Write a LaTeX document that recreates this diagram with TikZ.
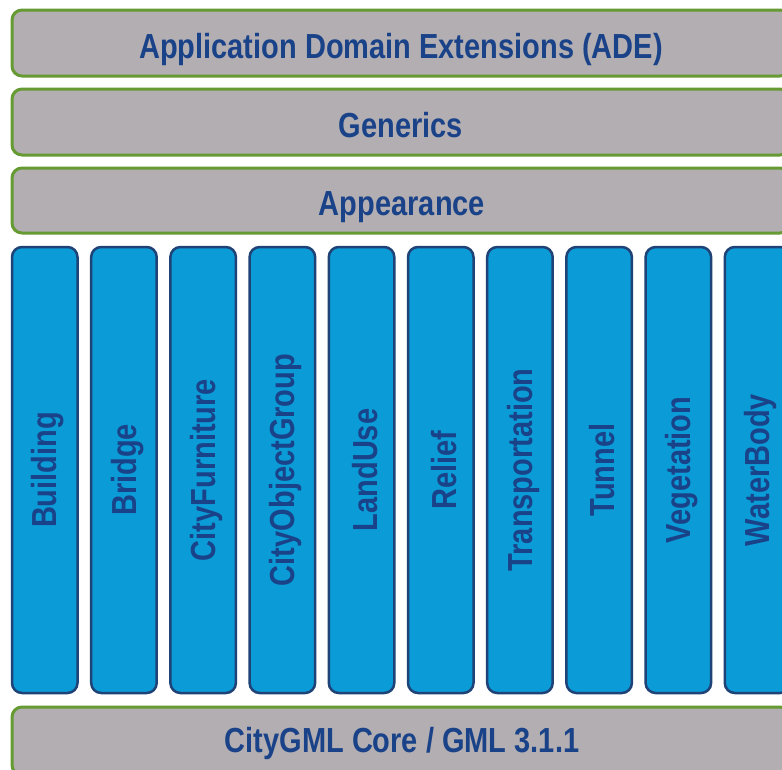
\documentclass[tikz,border=0pt]{standalone}
\usepackage{fontspec}
\usepackage{graphicx}
\setmainfont{Liberation Sans}
\definecolor{barfill}{HTML}{B2AEB1}
\definecolor{bargreen}{HTML}{669A32}
\definecolor{colfill}{HTML}{0B9BD7}
\definecolor{coledge}{HTML}{1F4277}
\definecolor{txtblue}{HTML}{1A4288}
\newcommand{\tallt}[1]{\scalebox{1}[1.2]{#1}}
\begin{document}
\begin{tikzpicture}[x=1pt,y=-1pt,
  lbl/.style={text=txtblue,font=\fontsize{29}{29}\selectfont\bfseries,inner sep=0pt},
  barbox/.style={draw=bargreen,fill=barfill,line width=3pt,rounded corners=10pt},
  colbox/.style={draw=coledge,fill=colfill,line width=2.5pt,rounded corners=10pt}]
\useasboundingbox (0,0) rectangle (782,769);
\clip (0,0) rectangle (782,769);
\fill[white] (0,0) rectangle (782,769);
% horizontal bars
\draw[barbox] (12,10) rectangle (790,76);
\node[lbl,anchor=base] (ade) at (401,58) {\tallt{Application Domain Extensions (ADE)}};
\draw[barbox] (12,89) rectangle (790,155);
\node[lbl,anchor=base] (gen) at (401,137) {\tallt{Generics}};
\draw[barbox] (12,168) rectangle (790,233);
\node[lbl,anchor=base] (app) at (402,215) {\tallt{Appearance}};
\draw[barbox] (12,707) rectangle (790,775);
\node[lbl,anchor=base] (core) at (402,752) {\tallt{CityGML Core / GML 3.1.1}};
% columns
\foreach \i/\t in {0/Building,1/Bridge,2/CityFurniture,3/CityObjectGroup,4/LandUse,5/Relief,6/Transportation,7/Tunnel,8/Vegetation,9/WaterBody}{
  \pgfmathsetmacro{\xl}{12+79.2*\i}
  \draw[colbox] (\xl,247) rectangle (\xl+65.5,693);
  \node[lbl,rotate=90] (c\i) at (\xl+36,470) {\tallt{\t}};
}
\end{tikzpicture}
\end{document}
